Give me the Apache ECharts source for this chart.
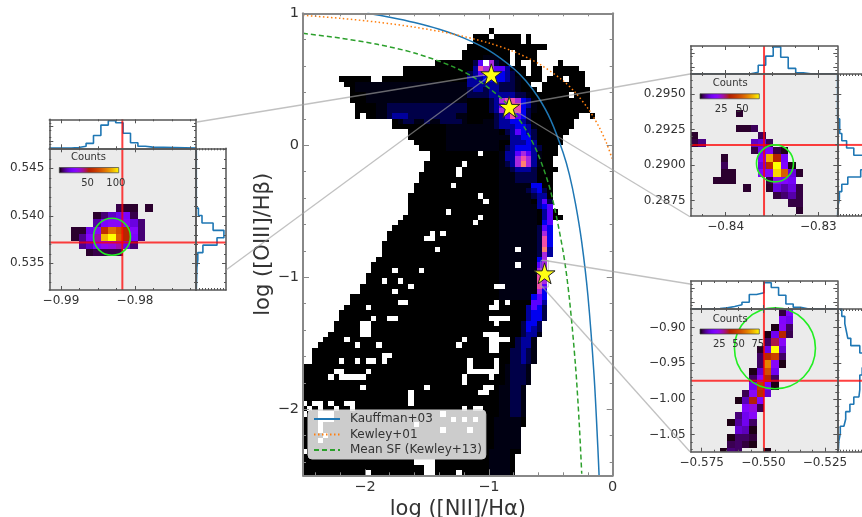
<!DOCTYPE html>
<html><head><meta charset="utf-8">
<style>html,body{margin:0;padding:0;background:#fff}#c{width:862px;height:517px}</style>
<script src="https://cdn.jsdelivr.net/npm/echarts@6/dist/echarts.min.js"></script>
</head><body><div id="c"></div>
<script>
// ---------- main BPT diagram: curves ----------
const kauffman = [[-1.98,1.0],[-1.8,.97],[-1.6,.93],[-1.4,.879],[-1.2,.812],[-1.0,.719],[-.8,.582],[-.7,.487],[-.6,.362],[-.5,.191],[-.4,-.056],[-.35,-.22],[-.3,-.443],[-.25,-.733],[-.2,-1.14],[-.15,-1.75],[-.12,-2.288],[-.11,-2.5]];
const kewley01 = [[-2.5,.985],[-2.2,.962],[-1.9,.933],[-1.6,.895],[-1.3,.845],[-1.0,.775],[-.8,.71],[-.6,.62],[-.4,.489],[-.3,.398],[-.2,.28],[-.15,.206],[-.1,.12],[-.05,.017],[-.005,-.1]];
const kewley13 = [[-2.5,.848],[-2.2,.812],[-1.9,.765],[-1.6,.699],[-1.3,.6],[-1.1,.502],[-.9,.356],[-.8,.253],[-.7,.116],[-.6,-.073],[-.5,-.352],[-.4,-.806],[-.35,-1.159],[-.3,-1.673],[-.27,-2.11],[-.25,-2.488]];
const stars = [[-.98,.538],[-.835,.291],[-.55,-.97]];
const mainXTicks = [-2,-1,0];
const mainYTicks = [1,0,-1,-2];

// ---------- main 2D histogram, in bin indices ----------
const mainX0 = -2.5108, mainDX = 0.0431, mainY0 = 0.886, mainDY = 0.04031;
// [row, colStart, colEnd, colStart, colEnd, ...]
const mainRows = [
[0,35,35],[1,32,34,36,40,42,42],[2,32,40,42,42],[3,31,45],[4,30,38,40,43],[5,30,38,40,43],
[6,25,38,40,40,43,43,48,48],[7,19,41,43,44,47,51],[8,19,41,43,44,47,52],[9,7,12,15,44,46,48,50,52],
[10,8,42,45,52],[11,9,43,45,53],[12,9,49,51,53],[13,9,53],[14,10,53],[15,10,53],[16,10,10,12,51,54,54],
[17,17,50],[18,17,50],[19,20,49],[20,20,48],[21,21,48],[22,22,47],[23,24,47],[24,24,46],[25,23,46],
[26,23,47],[27,22,46],[28,22,46],[29,21,46],[30,21,46],[31,20,46],[32,20,46],[33,20,46],[34,20,47],
[35,19,48],[36,18,46],[37,17,46],[38,16,46],[39,16,46],[40,15,46],[41,15,46],[42,15,46],[43,14,45],
[44,13,45],[45,13,45],[46,12,45],[47,12,45],[48,11,45],[49,11,45],[50,9,45],[51,9,45],[52,8,45],
[53,7,45],[54,7,45],[55,6,44],[56,6,44],[57,5,44],[58,4,43],[59,3,43],[60,2,43],[61,2,43],[62,2,43],
[63,0,42],[64,0,42],[65,0,42],[66,0,42],[67,0,41],[68,0,41],[69,0,41],[70,0,41],[71,0,41],[72,0,41],
[73,0,41],[74,0,41],[75,0,40],[76,0,40],[77,0,40],[78,0,40],[79,0,40],[80,0,39],[81,0,39],[82,0,39],[83,0,39]];
// empty bins inside the outline: [col,row]
const mainHoles = [[34,6],[39,4],[39,5],[39,6],[49,9],[50,12],[33,23],[30,25],[29,26],[29,27],[28,29],[33,31],[34,32],[27,34],[33,35],[32,36],[24,38],[26,38],[23,39],[24,39],[25,41],[40,41],
[40,44],[17,45],[22,45],[15,47],[18,47],[20,48],[36,48],[37,48],[17,49],[18,51],[19,51],[36,51],[38,51],[35,52],[36,52],[12,52],[13,54],[16,54],[17,54],[35,54],[36,54],[37,54],[38,54],[36,55],
[11,55],[12,55],[11,56],[12,56],[11,57],[12,57],[34,57],[35,57],[36,57],[35,58],[36,58],[35,59],[36,59],[35,60],[36,60],[37,58],[38,58],[30,58],[29,59],[8,58],[10,59],[14,59],[15,61],[16,61],[15,62],
[7,62],[10,62],[12,62],[13,62],[12,64],[11,65],[31,62],[31,63],[36,62],[36,63],[31,64],[32,64],[33,64],[34,64],[35,64],[36,64],[30,65],[30,66],[35,65],[34,67],[35,67],[33,68],[34,68],
[7,64],[6,64],[7,65],[8,65],[9,65],[10,65],[5,65],[11,67],[23,67],[20,68],[20,69],[20,70],[0,70],[2,70],[3,70],[5,70],[8,70],[9,70],[1,71],[3,71],[6,71],[9,71],[0,72],[30,71],[32,71],[33,71],
[3,72],[4,72],[5,72],[3,73],[4,73],[5,73],[3,74],[3,75],[4,76],[26,72],[21,74],[28,73],[30,73],[32,73],[31,75],[26,75],[0,79],[3,77],[23,81],[24,81],[23,82],[24,82],[23,83],[24,83],[21,81],[22,81],[12,83],[29,83]];
// density levels: [rowFrom,rowTo,colStart,[levels...]]
const mainBands = [
[10,11,10,[1,1,1,1,1,1,1,1,1,1,1,1,1,1,1,1,1,1,1,1,1]],[12,13,12,[1,1,1,1,1,1,1,1,1,1,1,1,1,1,1,1,1,1,1]],
[14,15,14,[1,1,2,2,2,2,2,2,2,2,2,2,2,2,2,2,2]],[16,16,14,[1,1,2,3,3,3,2,2,2,2,2,2,2,2,2,1,1]],[17,17,18,[1,2,2,1,1,2,1,1,2,2,2,2,1]],
[18,22,27,[1,1,1,1,1,1,1,1,1,1]],[23,32,37,[1,1,1,1,1,1]],[33,50,37,[1,1,1,1,1,1,1]],
[5,5,34,[1,1,1]],[6,6,32,[2,5,0,6,2,1]],[7,7,32,[3,7,6,6,5,5,3,1]],[8,8,31,[2,3,5,6,5,4,4,3,2]],[9,9,31,[3,3,3,4,4,4,4,3,2,1]],
[10,10,31,[3,3,3,3,3,3,2,2,2,1]],[11,11,31,[2,3,3,2,3,3,2,2,2,1]],[12,12,31,[2,2,2,2,3,3,3,3,3,2,2,1]],
[13,13,35,[2,3,6,7,7,6,4,3,1]],[14,14,35,[2,3,5,7,7,7,4,3,1]],[15,15,35,[2,3,6,7,7,7,4,2,1]],[16,16,36,[2,3,5,7,5,4,2]],
[17,17,34,[1,1,2,3,3,4,4,3,2]],[18,18,36,[2,3,3,3,4,4,3,1]],[19,19,38,[2,3,5,4,3,2]],[20,20,37,[1,1,3,3,4,4,2]],[21,21,39,[3,3,3,4,3]],
[22,22,38,[2,3,4,4,4,3,2]],[23,23,38,[3,3,5,6,5,3,1]],[24,24,38,[3,3,6,7,6,3,1]],[25,25,38,[2,3,6,8,6,3,1]],[26,26,39,[2,3,3,3,2]],[27,28,40,[2,2,2,2]],
[29,29,43,[4,4]],[30,30,42,[2,3,4,2]],[31,31,43,[2,3,3]],[32,32,44,[3,5,2]],[33,33,44,[3,4,5]],[34,35,45,[3,5]],[36,36,45,[4,5]],[37,37,44,[2,5,4]],[38,38,44,[2,6,4]],[39,40,44,[2,7,4]],[41,41,44,[2,8,3]],
[42,42,44,[2,6,3]],[43,43,44,[4,6,4]],[44,44,44,[5,6]],[45,45,44,[6,5]],[46,46,44,[7,5]],[47,47,44,[7,6]],[48,48,44,[7,5]],[49,49,44,[6,4]],[50,50,43,[4,5,4]],[51,51,43,[5,5,3]],[52,52,42,[3,5,4,2]],
[53,54,42,[3,4,4,2]],[55,55,41,[2,4,4,2]],[56,56,41,[2,4,3,2]],[57,57,41,[2,3,3,1]],[58,59,40,[2,3,3,1]],[60,62,39,[2,2,3,2,1]],[63,66,38,[1,2,2,2,1]],[67,72,37,[1,1,2,2,1]],[73,78,36,[1,1,1,1,1]],[79,83,35,[1,1,1,1]]];
const mainPalette = ['#000000','#000012','#000048','#00009c','#0000f0','#5a00ff','#a828e0','#f050a8','#ff8070'];

// ---------- inset A (star 1) ----------
const aX0=-.98861,aDX=.001,aY0=.5412,aDY=.00078,aMax=105;
const aRows=[[0,6,[5,3,3,0,3]],[1,3,[3,8,15,20,25,5]],[2,3,[12,25,30,30,30,18,8]],[3,0,[3,3,20,30,60,80,70,55,28,8]],[4,0,[3,10,28,40,95,105,75,55,25,8]],[5,1,[10,15,25,32,35,40,20,8]],[6,2,[3,5,5,5,5]]];
const aTopHist=[.03,.07,.17,.44,.8,.95,.88,.52,.19,.07,.04];
const aSideHist=[.08,.2,.57,.93,.7,.23,.06,.03], aSideY0=.54081;
const aCross=[-.98171,.5372], aCircle=[-.98311,.53779];
const aXMajor=[-.99,-.98], aYMajor=[.545,.54,.535], aCbTicks=[50,100];
// ---------- inset B (star 2) ----------
const bX0=-.84378,bDX=.00081,bY0=.29391,bDY=.000527,bMax=70;
const bRows=[[0,6,[2]],[2,6,[2,2,4]],[3,0,[2,0,0,0,0,0,0,0,0,4]],[4,0,[3,6,0,0,0,0,0,0,10,12,4]],[5,8,[3,15,18,3,1]],[6,4,[2,0,0,0,0,18,62,36,15]],[7,4,[4,0,0,0,0,12,38,70,18,1]],[8,4,[2,2,0,0,0,18,20,66,50,12,2]],[9,3,[2,2,2,0,0,0,0,3,22,18,15]],[10,7,[2,0,0,2,12,8,12,3]],[11,11,[3,5,8,3]],[12,13,[3,3]],[13,14,[2]]];
const bTopHist=[.01,.01,.01,.01,.01,.01,.01,.01,.06,.31,.64,.97,.6,.2,.04,.01];
const bSideHist=[.08,.08,.15,.31,.55,.9,1,.78,.35,.15,.07,.02], bSideY0=.29325;
const bCross=[-.83586,.29142], bCircle=[-.83468,.29012];
const bXMajor=[-.84,-.83], bYMajor=[.295,.2925,.29,.2875], bCbTicks=[25,50];
// ---------- inset C (star 3) ----------
const cX0=-.57946,cDX=.00297,cY0=-.87377,cDY=.01028,cMax=77;
const cRows=[[0,12,[3,20]],[1,12,[20,15]],[2,11,[1,22,5]],[3,10,[1,15,40,4]],[4,10,[5,35,22]],[5,9,[2,15,77,12]],[6,9,[5,42,48,5]],[7,9,[5,62,22,1]],[8,8,[1,12,52,15]],[9,8,[5,22,40,5]],[10,8,[15,46,20,1]],[11,7,[4,22,42,12]],[12,6,[1,10,38,20]],[13,7,[20,25,4]],[14,6,[6,15,22]],[15,5,[1,8,15,5]],[16,6,[12,10,1]],[17,5,[1,5,5,3]],[18,5,[4,5,3,1]],[19,4,[1,6,5,0,0,0,1]]];
const cTopHist=[.01,.01,.01,.02,.04,.09,.15,.24,.52,.58,.94,.77,.49,.18,.06,.01];
const cSideHist=[.15,.25,.3,.35,.45,.75,1,1,.83,.75,.75,.72,.55,.42,.28,.22,.1,.05,.04];
const cCross=[-.54975,-.9744], cCircle=[-.54529,-.92889];
const cXMajor=[-.575,-.55,-.525], cYMajor=[-.9,-.95,-1,-1.05], cCbTicks=[25,50,75];

// ---------- helpers ----------
const FONT='"DejaVu Sans",sans-serif', TXT='#333333';
const grids=[],xAxes=[],yAxes=[],series=[],graphics=[];
const range=(a,b,s)=>{const r=[];for(let v=a;v<=b+s*1e-6;v+=s)r.push(+v.toFixed(6));return r;};
const fmt=d=>v=>(+v).toFixed(d).replace('-','\u2212');
function axisSet(list,sides,gi,rng,maj,min,o,lab){
  const start=list.length;
  sides.forEach((side,si)=>{
    [[maj,o.majLen],[min,o.minLen]].forEach(([vals,len],vi)=>{
      const hasLabel=lab&&si===0&&vi===0;
      const a={type:'value',gridIndex:gi,position:side,min:rng[0],max:rng[1],z:10,silent:true,splitLine:{show:false},
        axisLine:{show:vi===0,onZero:false,lineStyle:{color:o.frame,width:o.frameW}},
        axisTick:{show:vals.length>0,inside:true,length:len,customValues:vals,lineStyle:{color:o.frame,width:1}},
        axisLabel:hasLabel?{show:true,customValues:vals,formatter:lab.fmt,fontSize:lab.size,color:TXT,fontFamily:FONT,margin:lab.margin,hideOverlap:false}:{show:false}};
      if(hasLabel&&lab.name){a.name=lab.name;a.nameLocation='middle';a.nameGap=lab.gap;a.nameTextStyle={fontSize:lab.nameSize,color:TXT,fontFamily:FONT};}
      list.push(a);
    });
  });
  return start;
}
function panel(box,xr,yr,xMaj,xMin,yMaj,yMin,o){
  const gi=grids.length;
  grids.push({left:box[0],top:box[1],width:box[2],height:box[3],show:true,backgroundColor:o.bg||'#fff',borderWidth:0,containLabel:false,outerBoundsMode:'none'});
  const xi=axisSet(xAxes,['bottom','top'],gi,xr,xMaj,xMin,o,o.xLab);
  const yi=axisSet(yAxes,['left','right'],gi,yr,yMaj,yMin,o,o.yLab);
  return {xAxisIndex:xi,yAxisIndex:yi};
}
function gnuplotColor(t){
  t=Math.max(0,Math.min(1,t));
  const r=Math.sqrt(t),g=t*t*t,b=Math.max(0,Math.sin(2*Math.PI*t));
  return 'rgb('+[r,g,b].map(v=>Math.round(v*255)).join(',')+')';
}
function cellSeries(ax,data,colorOf,z){
  series.push(Object.assign({type:'custom',silent:true,clip:true,z:z||2,data,
    renderItem:(p,api)=>{
      const a=api.coord([api.value(0),api.value(1)]),b=api.coord([api.value(2),api.value(3)]);
      const x=Math.round(a[0]),y=Math.round(a[1]);
      return {type:'rect',shape:{x,y,width:Math.round(b[0])-x,height:Math.round(b[1])-y},style:{fill:colorOf(api.value(4))}};
    }},ax));
}
function lineSeries(ax,data,color,width,z,extra){
  series.push(Object.assign({type:'line',silent:true,showSymbol:false,symbol:'none',clip:true,z:z,data,animation:false,
    lineStyle:{color,width}},ax,extra||{}));
}
function rowsToCells(rows,x0,dx,y0,dy){
  const out=[];
  rows.forEach(([r,c0,vals])=>vals.forEach((v,i)=>{
    if(v>0){const c=c0+i;out.push([x0+c*dx,y0-r*dy,x0+(c+1)*dx,y0-(r+1)*dy,v]);}
  }));
  return out;
}
function stepTop(vals,x0,dx,xr){
  const pts=[[xr[0],.01],[x0,.01]];
  vals.forEach((v,i)=>{pts.push([x0+i*dx,v],[x0+(i+1)*dx,v]);});
  const end=x0+vals.length*dx;
  if(end<xr[1])pts.push([end,.01],[xr[1],.01]);
  return pts;
}
function stepSide(vals,y0,dy,yr){
  const pts=[[.01,yr[1]],[.01,y0]];
  vals.forEach((v,i)=>{pts.push([v,y0-i*dy],[v,y0-(i+1)*dy]);});
  const end=y0-vals.length*dy;
  if(end>yr[0])pts.push([.01,end],[.01,yr[0]]);
  return pts;
}
function addText(text,x,y,size){
  graphics.push({type:'text',x,y,z:25,silent:true,style:{text,font:size+'px '+FONT,fill:TXT,textAlign:'center',textVerticalAlign:'middle'}});
}
const INSET={bg:'#ebebeb',frame:'#555555',frameW:1.5,majLen:4,minLen:2};
function inset(cfg){
  const {mainBox,topBox,sideBox,xr,yr,xMaj,xMin,yMaj,yMin,xDec,yDec,cells,vmax,top,side,cross,circle,circleSize}=cfg;
  const col=v=>gnuplotColor(v/vmax);
  const m=panel(mainBox,xr,yr,xMaj,xMin,yMaj,yMin,Object.assign({},INSET,{
    xLab:{fmt:fmt(xDec),size:12,margin:5},yLab:{fmt:fmt(yDec),size:12,margin:5}}));
  const t=panel(topBox,xr,[0,1],xMaj,xMin,[.25,.75],[.125,.375,.625,.875],Object.assign({},INSET,{bg:'#fff'}));
  const s=panel(sideBox,[0,1],yr,[],range(.1,.9,.1),yMaj,yMin,Object.assign({},INSET,{bg:'#fff'}));
  cellSeries(m,cells,col);
  lineSeries(t,top,'#1f77b4',1.6,3,{});
  lineSeries(s,side,'#1f77b4',1.6,3,{});
  const red='rgba(255,0,0,0.75)';
  lineSeries(m,[[cross[0],yr[0]],[cross[0],yr[1]]],red,2,5);
  lineSeries(m,[[xr[0],cross[1]],[xr[1],cross[1]]],red,2,5);
  lineSeries(t,[[cross[0],0],[cross[0],1]],red,2,5);
  lineSeries(s,[[0,cross[1]],[1,cross[1]]],red,2,5);
  series.push(Object.assign({type:'scatter',silent:true,z:6,clip:true,symbol:'circle',symbolSize:circleSize,data:[circle],
    itemStyle:{color:'rgba(0,0,0,0)',borderColor:'#22ee22',borderWidth:1.6,opacity:1}},m));
  // colour bar
  const [bx,by,bw,bh]=cfg.bar;
  const stops=[];for(let i=0;i<=20;i++)stops.push({offset:i/20,color:gnuplotColor(i/20)});
  graphics.push({type:'rect',z:24,silent:true,shape:{x:bx,y:by,width:bw,height:bh},
    style:{fill:new echarts.graphic.LinearGradient(0,0,1,0,stops),stroke:'#444',lineWidth:.7}});
  addText('Counts',bx+bw/2-cfg.countsShift,by-10,10);
  cfg.cbTicks.forEach(v=>addText(String(v),bx+bw*v/vmax,by+bh+10.5,10));
}

// ---------- main panel ----------
const XR=[-2.5,0],YR=[-2.5,1];
const mainAx=panel([303,13.3,309.7,462],XR,YR,mainXTicks,range(-2.4,-.2,.2),mainYTicks,range(-2.4,.8,.2),{
  bg:'#fff',frame:'#888888',frameW:2,majLen:6,minLen:3,
  xLab:{fmt:fmt(0),size:14.5,margin:4,name:'log ([NII]/H\u03b1)',gap:18,nameSize:21},
  yLab:{fmt:fmt(0),size:14.5,margin:4,name:'log ([OIII]/H\u03b2)',gap:27,nameSize:21}});
const holeSet=new Set(mainHoles.map(h=>h[0]+':'+h[1]));
const lvl={};
mainRows.forEach(row=>{
  for(let i=1;i<row.length;i+=2)for(let c=row[i];c<=row[i+1];c++){
    const key=c+':'+row[0];
    if(!holeSet.has(key))lvl[key]=0;
  }
});
mainBands.forEach(([r0,r1,c0,vals])=>{
  for(let r=r0;r<=r1;r++)vals.forEach((v,i)=>{
    const key=(c0+i)+':'+r;
    if(key in lvl&&v>0)lvl[key]=v;
  });
});
const mainCells=Object.keys(lvl).map(key=>{
  const [c,r]=key.split(':').map(Number);
  return [mainX0+c*mainDX,mainY0-r*mainDY,mainX0+(c+1)*mainDX,mainY0-(r+1)*mainDY,lvl[key]];
});
cellSeries(mainAx,mainCells,v=>mainPalette[v]);
lineSeries(mainAx,kauffman,'#1f77b4',1.5,4,{name:'Kauffman+03',smooth:.3,itemStyle:{color:'#1f77b4'}});
lineSeries(mainAx,kewley01,'#ff7f0e',1.5,4,{name:'Kewley+01',smooth:.3,lineStyle:{color:'#ff7f0e',width:1.5,type:[1.5,2.5]},itemStyle:{color:'#ff7f0e'}});
lineSeries(mainAx,kewley13,'#2ca02c',1.5,4,{name:'Mean SF (Kewley+13)',smooth:.3,lineStyle:{color:'#2ca02c',width:1.5,type:[5,3]},itemStyle:{color:'#2ca02c'}});

// ---------- insets ----------
const aXR=[-.99158,-.97176],aYR=[.53219,.54711];
const bXR=[-.84378,-.82795],bYR=[.28642,.29641];
const cXR=[-.57946,-.52],cYR=[-1.07384,-.87377];
inset({mainBox:[49.3,148.3,146.7,141.7],topBox:[49.3,119.3,146.7,29],sideBox:[196,148.3,30,141.7],
  xr:aXR,yr:aYR,xMaj:aXMajor,xMin:range(-.9875,-.9725,.0025).filter(v=>!aXMajor.includes(v)),yMaj:aYMajor,yMin:range(.533,.547,.001).filter(v=>!aYMajor.includes(v)),xDec:2,yDec:3,
  cells:rowsToCells(aRows,aX0,aDX,aY0,aDY),vmax:aMax,top:stepTop(aTopHist,aX0,aDX,aXR),side:stepSide(aSideHist,aSideY0,aDY,aYR),
  cross:aCross,circle:aCircle,circleSize:37,bar:[59.3,167.5,59.4,5.3],cbTicks:aCbTicks,countsShift:.5});
inset({mainBox:[690.7,74,146.6,142],topBox:[690.7,46,146.6,28],sideBox:[837.3,74,30,142],
  xr:bXR,yr:bYR,xMaj:bXMajor,xMin:range(-.8425,-.8275,.0025).filter(v=>!bXMajor.includes(v)),yMaj:bYMajor,yMin:range(.287,.296,.0005).filter(v=>!bYMajor.includes(v)),xDec:2,yDec:4,
  cells:rowsToCells(bRows,bX0,bDX,bY0,bDY),vmax:bMax,top:stepTop(bTopHist,bX0,bDX,bXR),side:stepSide(bSideHist,bSideY0,bDY*.97,bYR),
  cross:bCross,circle:bCircle,circleSize:37,bar:[700,93.8,59.3,5],cbTicks:bCbTicks,countsShift:-.5});
inset({mainBox:[690.7,309,146.6,142.7],topBox:[690.7,281,146.6,28],sideBox:[837.3,309,30,142.7],
  xr:cXR,yr:cYR,xMaj:cXMajor,xMin:range(-.57,-.525,.005).filter(v=>!cXMajor.includes(v)),yMaj:cYMajor,yMin:range(-1.07,-.88,.01).filter(v=>!cYMajor.includes(v)),xDec:3,yDec:2,
  cells:rowsToCells(cRows,cX0,cDX,cY0,cDY),vmax:cMax,top:stepTop(cTopHist,cX0,cDX,cXR),side:stepSide(cSideHist,cY0,cDY,cYR),
  cross:cCross,circle:cCircle,circleSize:81,bar:[700,329,59.3,5],cbTicks:cCbTicks,countsShift:-.5});

// ---------- inset indicator boxes on the main panel ----------
const insetBoxes=[[aXR[0],aYR[1],aXR[1],aYR[0]],[bXR[0],bYR[1],bXR[1],bYR[0]],[cXR[0],cYR[1],cXR[1],cYR[0]]];
series.push(Object.assign({type:'custom',silent:true,clip:true,z:14,data:insetBoxes,
  renderItem:(p,api)=>{
    const a=api.coord([api.value(0),api.value(1)]),b=api.coord([api.value(2),api.value(3)]);
    return {type:'rect',shape:{x:a[0],y:a[1],width:b[0]-a[0],height:b[1]-a[1]},style:{fill:'none',stroke:'rgba(170,170,170,.7)',lineWidth:1}};
  }},mainAx));

// ---------- stars ----------
const STAR='path://M50 0 L61.2 34.5 L97.6 34.5 L68.2 55.9 L79.4 90.5 L50 69.1 L20.6 90.5 L31.8 55.9 L2.4 34.5 L38.8 34.5 Z';
series.push(Object.assign({type:'scatter',silent:true,z:30,clip:false,symbol:STAR,symbolSize:21,data:stars,
  itemStyle:{color:'#ffff14',borderColor:'#222',borderWidth:1,opacity:1}},mainAx));

// ---------- inset connector lines ----------
[[197,122,491,74],[226,270,491,75],[690,74,509,106],[690,216.7,509,107],[690,284,541.7,260],[690,451.7,541.7,286]].forEach(l=>{
  graphics.push({type:'line',z:15,silent:true,shape:{x1:l[0],y1:l[1],x2:l[2],y2:l[3]},style:{stroke:'rgba(160,160,160,.65)',lineWidth:1.3}});
});

const chart=echarts.init(document.getElementById('c'),null,{renderer:'canvas'});
chart.setOption({
  animation:false,backgroundColor:'#fff',textStyle:{fontFamily:FONT},
  grid:grids,xAxis:xAxes,yAxis:yAxes,series,graphic:{elements:graphics},
  legend:{show:true,orient:'vertical',left:308,top:410,z:40,selectedMode:false,
    data:['Kauffman+03','Kewley+01','Mean SF (Kewley+13)'],itemStyle:{opacity:0},
    backgroundColor:'rgba(255,255,255,.8)',borderColor:'#cccccc',borderWidth:1,borderRadius:4,
    padding:[3,4,3,5],itemGap:3.5,itemWidth:26,itemHeight:15,
    textStyle:{fontSize:12,color:'#333',fontFamily:FONT,padding:[0,0,0,5]}}
});
</script>
</body></html>
